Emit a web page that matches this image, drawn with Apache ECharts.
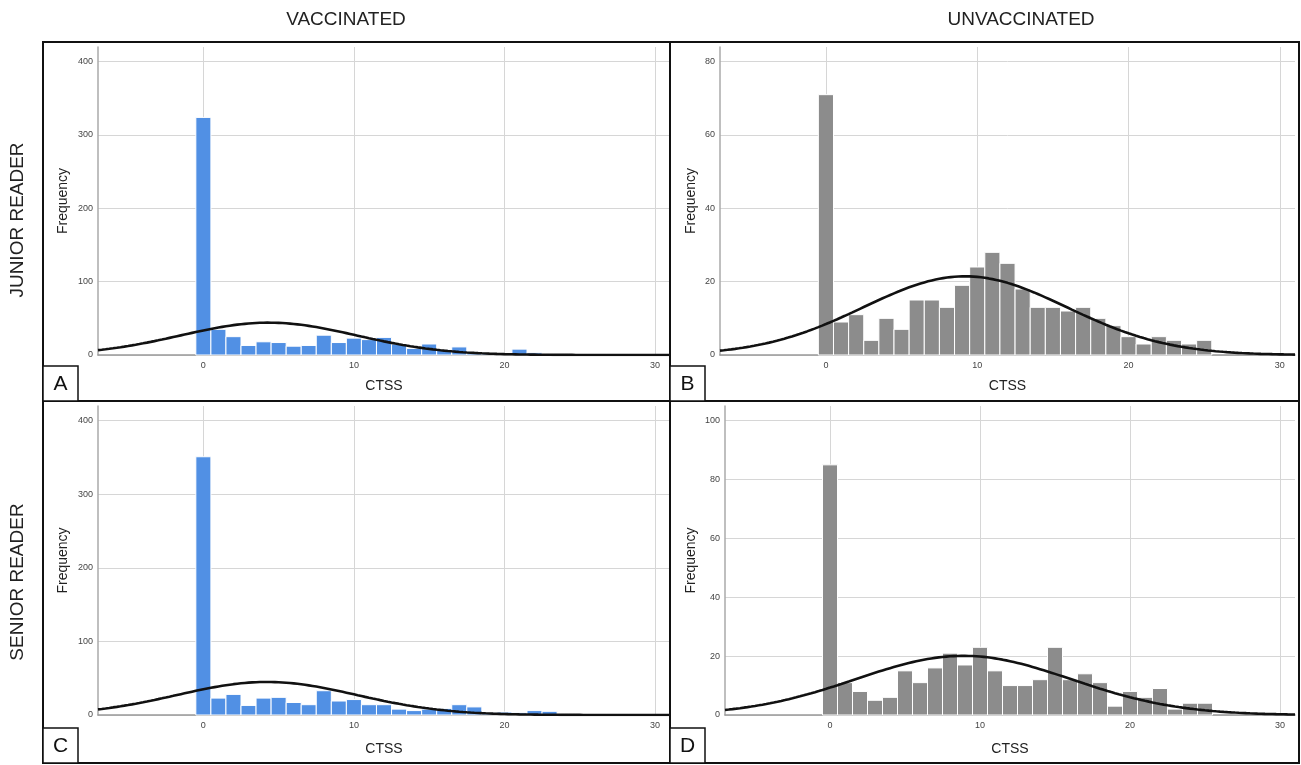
<!DOCTYPE html>
<html>
<head>
<meta charset="utf-8">
<title>CTSS histograms</title>
<script src="https://cdn.jsdelivr.net/npm/echarts@6/dist/echarts.min.js"></script>
<style>
  html, body { margin: 0; padding: 0; background: #fff; }
  #main { width: 1301px; height: 765px; }
</style>
</head>
<body>
<div id="main"></div>
<script>
// CTSS score bins (one bar per score)
var vaccBins = [0,1,2,3,4,5,6,7,8,9,10,11,12,13,14,15,16,17,18,19,20,21,22,23];
var unvaccBins = [0,1,2,3,4,5,6,7,8,9,10,11,12,13,14,15,16,17,18,19,20,21,22,23,24,25];

// frequencies
var juniorVaccinated = [324,35,25,13,18,17,12,13,27,17,23,21,24,15,9,15,7,11,3,2,2,8,3,1];
var juniorUnvaccinated = [71,9,11,4,10,7,15,15,13,19,24,28,25,18,13,13,12,13,10,8,5,3,5,4,3,4];
var seniorVaccinated = [351,23,28,13,23,24,17,14,33,19,21,14,14,8,6,8,9,14,11,3,4,3,6,5];
var seniorUnvaccinated = [85,11,8,5,6,15,11,16,21,17,23,15,10,10,12,23,12,14,11,3,8,6,9,2,4,4];

// axis ticks
var xTicks = [0,10,20,30];
var yTicksVacc = [0,100,200,300,400];
var yTicksJuniorUnvacc = [0,20,40,60,80];
var yTicksSeniorUnvacc = [0,20,40,60,80,100];

var FONT = '"Liberation Sans", Arial, sans-serif';
var BLUE = '#5190e4';
var GREY = '#8c8c8c';

// normal curve fitted to the histogram counts (what SPSS overlays)
function normalCurve(bins, counts) {
  var n = 0, s = 0, s2 = 0;
  for (var i = 0; i < bins.length; i++) {
    n += counts[i]; s += bins[i] * counts[i]; s2 += bins[i] * bins[i] * counts[i];
  }
  var mean = s / n;
  var sd = Math.sqrt(s2 / n - mean * mean);
  var pts = [];
  for (var x = -7; x <= 31.001; x += 0.25) {
    var z = (x - mean) / sd;
    pts.push([x, n / (sd * Math.sqrt(2 * Math.PI)) * Math.exp(-0.5 * z * z)]);
  }
  return pts;
}

var panels = [
  { bins: vaccBins, counts: juniorVaccinated, color: BLUE, max: 420, yTicks: yTicksVacc,
    grid: { left: 98, right: 631, top: 47, bottom: 410 }, nameGap: 28 },
  { bins: unvaccBins, counts: juniorUnvaccinated, color: GREY, max: 84, yTicks: yTicksJuniorUnvacc,
    grid: { left: 720, right: 6, top: 47, bottom: 410 }, nameGap: 22 },
  { bins: vaccBins, counts: seniorVaccinated, color: BLUE, max: 420, yTicks: yTicksVacc,
    grid: { left: 98, right: 631, top: 406, bottom: 50 }, nameGap: 28 },
  { bins: unvaccBins, counts: seniorUnvaccinated, color: GREY, max: 105, yTicks: yTicksSeniorUnvacc,
    grid: { left: 725, right: 6, top: 406, bottom: 50 }, nameGap: 27 }
];

var grids = [], xAxes = [], yAxes = [], series = [];

panels.forEach(function (p, i) {
  grids.push(p.grid);
  xAxes.push({
    type: 'value', gridIndex: i, min: -7, max: 31,
    name: 'CTSS', nameLocation: 'middle', nameGap: i < 2 ? 24 : 27,
    nameTextStyle: { fontFamily: FONT, fontSize: 14, color: '#222' },
    axisLine: { show: true, onZero: false, lineStyle: { color: '#999', width: 1.5 } },
    axisTick: { show: false, customValues: xTicks },
    axisLabel: { customValues: xTicks, fontFamily: FONT, fontSize: 9, color: '#444', margin: 6 },
    splitLine: { show: true, lineStyle: { color: '#d6d6d6', width: 1 } }
  });
  yAxes.push({
    type: 'value', gridIndex: i, min: 0, max: p.max,
    name: 'Frequency', nameLocation: 'middle', nameGap: p.nameGap, nameRotate: 90,
    nameTextStyle: { fontFamily: FONT, fontSize: 14, color: '#222' },
    axisLine: { show: true, onZero: false, lineStyle: { color: '#aaa', width: 1.5 } },
    axisTick: { show: false, customValues: p.yTicks },
    axisLabel: { customValues: p.yTicks, fontFamily: FONT, fontSize: 9, color: '#444', margin: 5 },
    splitLine: { show: true, lineStyle: { color: '#d6d6d6', width: 1 } }
  });

  var data = p.bins.map(function (b, k) { return [b, p.counts[k]]; });
  series.push({
    type: 'custom', xAxisIndex: i, yAxisIndex: i, z: 2,
    data: data,
    encode: { x: 0, y: 1 },
    renderItem: (function (color) {
      return function (params, api) {
        var k = api.value(0), v = api.value(1);
        var top = api.coord([k - 0.5, v]);
        var base = api.coord([k + 0.5, 0]);
        return {
          type: 'rect',
          shape: { x: top[0], y: top[1], width: base[0] - top[0], height: base[1] - top[1] },
          style: { fill: color, stroke: '#fff', lineWidth: 1 }
        };
      };
    })(p.color)
  });
  series.push({
    type: 'line', xAxisIndex: i, yAxisIndex: i, z: 3,
    data: normalCurve(p.bins, p.counts),
    showSymbol: false, smooth: false,
    lineStyle: { color: '#111', width: 2.6 }
  });
});

function letterBox(x, y, ch) {
  return [
    { type: 'rect', shape: { x: x, y: y, width: 35, height: 35 },
      style: { fill: '#fff', stroke: '#111', lineWidth: 1.5 }, z: 10 },
    { type: 'text', x: x + 17.5, y: y + 18.5, z: 11,
      style: { text: ch, font: '21px ' + FONT, fill: '#111', align: 'center', verticalAlign: 'middle' } }
  ];
}

var graphics = [
  // outer frame and dividers
  { type: 'rect', shape: { x: 43, y: 42, width: 1256, height: 721 },
    style: { fill: 'none', stroke: '#111', lineWidth: 2 }, z: 9 },
  { type: 'line', shape: { x1: 670, y1: 42, x2: 670, y2: 763 }, style: { stroke: '#111', lineWidth: 2 }, z: 9 },
  { type: 'line', shape: { x1: 43, y1: 401, x2: 1299, y2: 401 }, style: { stroke: '#111', lineWidth: 2 }, z: 9 },
  // column and row headings
  { type: 'text', x: 346, y: 20, style: { text: 'VACCINATED', font: '19px ' + FONT, fill: '#222', align: 'center', verticalAlign: 'middle' } },
  { type: 'text', x: 1021, y: 20, style: { text: 'UNVACCINATED', font: '19px ' + FONT, fill: '#222', align: 'center', verticalAlign: 'middle' } },
  { type: 'text', x: 18, y: 220, rotation: Math.PI / 2,
    style: { text: 'JUNIOR READER', font: '19px ' + FONT, fill: '#222', align: 'center', verticalAlign: 'middle' } },
  { type: 'text', x: 18, y: 582, rotation: Math.PI / 2,
    style: { text: 'SENIOR READER', font: '19px ' + FONT, fill: '#222', align: 'center', verticalAlign: 'middle' } }
].concat(letterBox(43, 366, 'A'), letterBox(670, 366, 'B'), letterBox(43, 728, 'C'), letterBox(670, 728, 'D'));

var chart = echarts.init(document.getElementById('main'));
chart.setOption({
  animation: false,
  backgroundColor: '#fff',
  grid: grids,
  xAxis: xAxes,
  yAxis: yAxes,
  series: series,
  graphic: graphics
});
</script>
</body>
</html>
